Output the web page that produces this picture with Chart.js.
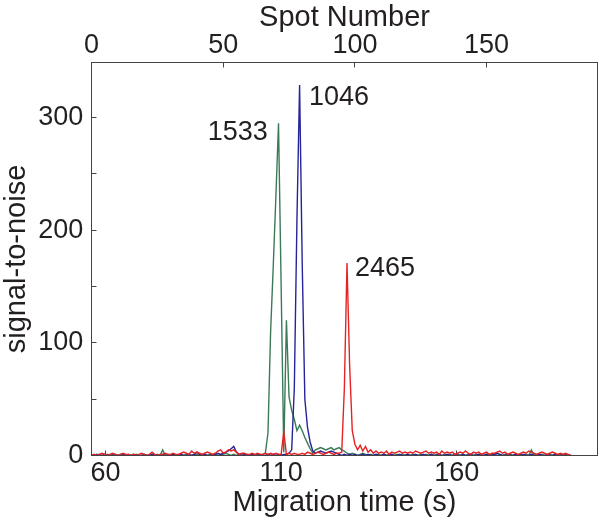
<!DOCTYPE html>
<html><head><meta charset="utf-8">
<script src="https://cdn.jsdelivr.net/npm/chart.js@4.4.1/dist/chart.umd.min.js"></script>
<style>html,body{margin:0;padding:0;background:#fff}</style>
</head><body>
<canvas id="c" width="601" height="526"></canvas>
<script>
// ---- data (signal-to-noise per spot) ----
const spotTicks = [0, 50, 100, 150];
const timeTicks = [60, 110, 160];
const snrTicks = [0, 100, 200, 300];

const red = [
0,1,0,1,2,1,0,1,2,1,
0,1,2,1,1,0,1,0,1,2,
1,0,1,3,1,0,1,1,2,1,
1,2,1,1,2,3,2,1,4,2,
3,2,1,2,3,2,1,2,4,5,
2,3,5,4,5,3,1,2,2,1,
1,2,1,2,1,1,2,1,2,1,
2,1,1,21,1,2,1,2,1,1,
2,1,3,2,1,2,3,2,1,2,
3,2,1,2,2,3,60,171,80,22,
10,5,9,4,8,3,5,2,4,2,
3,2,4,1,3,2,3,4,2,3,
2,3,2,4,3,2,3,4,2,3,
2,3,1,4,2,3,2,3,1,2,
3,2,4,2,1,3,2,3,1,2,
3,1,2,2,3,4,2,3,1,2,
3,2,1,2,3,2,4,3,2,1,
2,3,2,1,2,3,2,1,2,1,
2,1,0];

const blue = [
0,0,1,0,0,1,0,0,0,1,
0,0,1,0,0,0,1,0,0,0,
1,0,0,1,0,0,0,1,0,0,
0,1,0,0,1,0,0,1,0,1,
3,1,0,1,0,0,1,1,2,1,
2,3,4,6,8,3,1,0,1,0,
0,1,0,0,1,0,0,1,0,1,
0,1,0,1,1,2,5,60,210,329,
170,50,25,12,4,2,3,4,3,2,
3,4,3,2,1,0,1,0,1,0,
1,0,0,1,0,1,0,0,1,0,
0,1,0,0,1,0,0,1,0,0,
1,0,0,1,0,0,1,0,0,1,
0,0,1,0,0,1,0,0,1,0,
0,1,0,0,1,0,0,1,0,0,
1,0,0,1,2,1,0,0,1,0,
0,1,0,0,1,0,0,1,0,0,
1,0,0,1,0,0,1,0,0,1,
0,0,0];

const green = [
1,0,0,1,0,0,1,0,1,0,
0,1,0,0,1,0,0,1,0,0,
1,0,0,1,0,1,0,5,0,1,
0,1,0,0,1,0,1,0,0,1,
1,0,1,0,0,1,0,1,0,1,
1,2,1,0,1,0,1,0,0,1,
0,1,0,1,0,1,2,20,110,168,
230,295,150,3,120,52,40,32,22,27,
22,16,11,6,2,5,6,7,6,5,
6,7,5,6,7,5,4,2,1,2,
1,0,1,2,1,0,1,0,1,1,
0,1,0,1,0,0,1,0,1,0,
1,0,1,0,0,1,0,1,0,1,
0,1,0,0,1,0,1,0,0,1,
0,1,0,1,0,0,1,0,1,0,
1,0,1,0,2,1,0,1,0,1,
0,1,0,1,0,1,0,5,0,1,
0,1,0,0,1,0,1,0,1,0,
1,0,0];

const peakLabels = ['1533', '1046', '2465'];
const peakLabelSpot = [66.96, 82.53, 100.0];
const peakLabelValue = [286.6, 317.7, 166];
const peakLabelAlign = ['right', 'left', 'left'];

// ---- styling ----
const FAMILY = '"Liberation Sans", Arial, Helvetica, sans-serif';
const FONT = {family: FAMILY, size: 27};
const TFONT = {family: FAMILY, size: 29};
const TXT = '#231f20';
const AX = '#444';

const toPts = arr => arr.map((v, i) => ({x: i, y: v}));

const framePlugin = {
  id: 'frame',
  afterDraw(chart) {
    const {ctx, chartArea: a} = chart;
    ctx.save();
    ctx.strokeStyle = AX; ctx.lineWidth = 1;
    ctx.strokeRect(a.left, a.top, a.right - a.left, a.bottom - a.top);
    const xs = chart.scales.xs, y = chart.scales.y;
    ctx.font = FONT.size + 'px ' + FONT.family;
    ctx.fillStyle = TXT;
    ctx.textBaseline = 'middle';
    peakLabels.forEach((t, i) => {
      ctx.textAlign = peakLabelAlign[i];
      ctx.fillText(t, xs.getPixelForValue(peakLabelSpot[i]), y.getPixelForValue(peakLabelValue[i]));
    });
    ctx.restore();
  }
};

const gridIn = {drawOnChartArea: false, tickLength: -5, color: AX, tickColor: AX, lineWidth: 1};

new Chart(document.getElementById('c'), {
  type: 'line',
  data: {
    datasets: [
      {data: toPts(red), borderColor: '#e52325', xAxisID: 'xs', yAxisID: 'y'},
      {data: toPts(blue), borderColor: '#25249a', xAxisID: 'xs', yAxisID: 'y'},
      {data: toPts(green), borderColor: '#3b7a57', xAxisID: 'xs', yAxisID: 'y'}
    ]
  },
  options: {
    responsive: false,
    animation: false,
    devicePixelRatio: 1,
    layout: {padding: {left: 0, right: 3.5, top: 0, bottom: 0}},
    elements: {
      line: {borderWidth: 1.4, tension: 0, fill: false},
      point: {radius: 0, hoverRadius: 0}
    },
    plugins: {legend: {display: false}, tooltip: {enabled: false}},
    scales: {
      xs: {
        type: 'linear', position: 'top', min: 0, max: 192.1,
        afterFit: s => { s.height = 62.5; },
        afterBuildTicks: s => { s.ticks = spotTicks.map(v => ({value: v})); },
        grid: gridIn, border: {display: false},
        ticks: {font: FONT, color: TXT, padding: 6, maxRotation: 0, autoSkip: false},
        title: {display: true, text: 'Spot Number', font: TFONT, color: TXT, padding: {top: 1, bottom: 0}}
      },
      xt: {
        type: 'linear', position: 'bottom', min: 56, max: 200.08,
        afterFit: s => { s.height = 70.5; },
        afterBuildTicks: s => { s.ticks = timeTicks.map(v => ({value: v})); },
        grid: gridIn, border: {display: false},
        ticks: {font: FONT, color: TXT, padding: 6.5, maxRotation: 0, autoSkip: false},
        title: {display: true, text: 'Migration time (s)', font: TFONT, color: TXT, padding: {top: 0, bottom: 6}}
      },
      y: {
        type: 'linear', position: 'left', min: 0, max: 349,
        afterFit: s => { s.width = 91.5; },
        afterBuildTicks: s => {
          const t = [];
          for (let v = 0; v <= 300; v += 50) t.push({value: v});
          s.ticks = t;
        },
        grid: gridIn, border: {display: false},
        ticks: {
          font: FONT, color: TXT, padding: 13.2, autoSkip: false,
          callback: v => snrTicks.includes(v) ? String(v) : ''
        },
        title: {display: true, text: 'signal-to-noise', font: TFONT, color: TXT, padding: {top: 0, bottom: 0}}
      }
    }
  },
  plugins: [framePlugin]
});
</script>
</body></html>
